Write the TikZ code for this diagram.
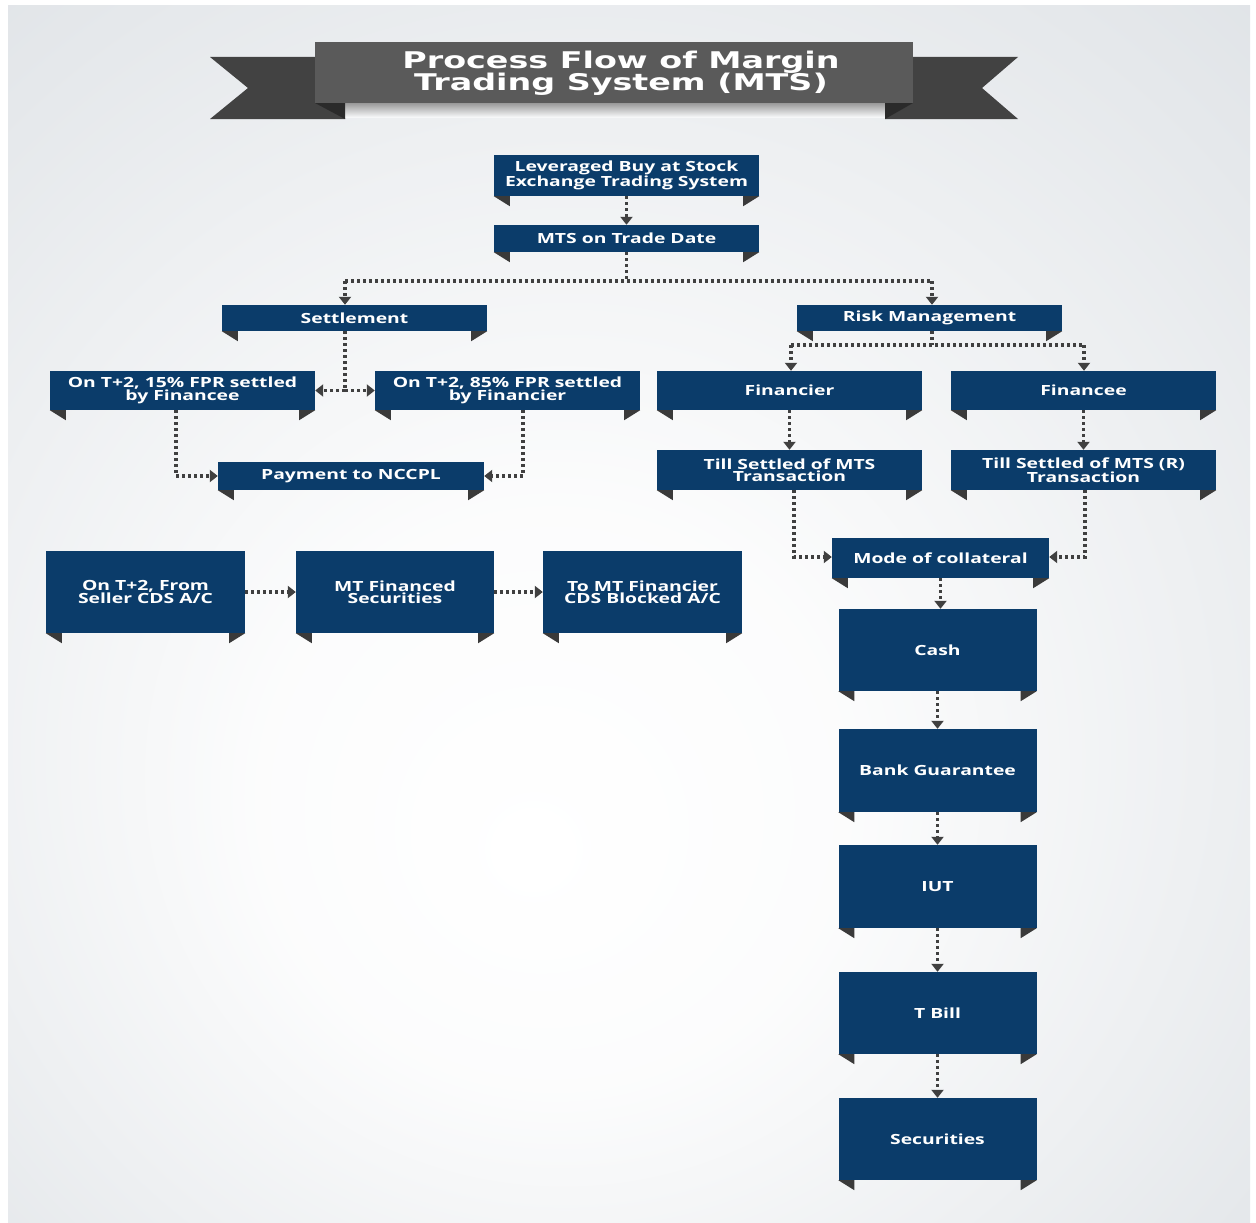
\documentclass[tikz,border=0pt]{standalone}
\usepackage{fontspec}
\setmainfont{Open Sans}[FakeStretch=1.38]
\newfontfamily\titlefont{DejaVu Sans}[FakeStretch=1.45]
\usetikzlibrary{arrows.meta}
\definecolor{navy}{HTML}{0B3C6A}
\definecolor{dotc}{HTML}{404040}
\definecolor{bgc}{HTML}{D4D9DE}
\definecolor{bannerc}{HTML}{5A5A5A}
\definecolor{tailc}{HTML}{424242}
\definecolor{foldc}{HTML}{3A3A3A}
\definecolor{folddark}{HTML}{2A2A2A}
\pgfdeclareradialshading{glow}{\pgfpoint{-4bp}{-10bp}}{color(0bp)=(white); color(12bp)=(white!92!bgc); color(50bp)=(bgc)}
\newcommand\boxfolds[1]{%
  \fill[foldc] (#1.south west) -- ++(16,0) -- ++(0,10) -- cycle;
  \fill[foldc] (#1.south east) -- ++(-16,0) -- ++(0,10) -- cycle;}
\begin{document}
\begin{tikzpicture}[x=1pt,y=-1pt,
  box/.style={fill=navy,text=white,inner sep=0pt,align=center,
    font=\fontsize{14}{12.5}\selectfont\bfseries},
  dotline/.style={draw=dotc,line width=3.2pt,dash pattern=on 3pt off 3pt},
  arr/.style={dotline,-{Triangle[length=8pt,width=12pt]}}]
\useasboundingbox (0,0) rectangle (1256,1223);
\fill[white] (0,0) rectangle (1256,1223);
\shade[shading=glow] (8,6) rectangle (1250,1223);

% title banner
\fill[tailc] (210,57) -- (345,57) -- (345,119) -- (210,119) -- (248,88) -- cycle;
\fill[tailc] (1018,57) -- (885,57) -- (885,119) -- (1018,119) -- (982,88) -- cycle;
\shade[top color=black!40,bottom color=white!80!bgc] (345,103) rectangle (885,117);
\fill[folddark] (315,103) -- (345,103) -- (345,119) -- cycle;
\fill[folddark] (913,103) -- (885,103) -- (885,119) -- cycle;
\fill[bannerc] (315,42) rectangle (913,103);
\node[text=white,align=center,inner sep=0pt,
  font=\titlefont\bfseries\fontsize{23}{20}\selectfont] (title) at (621,73.5)
  {Process Flow of Margin\\[-1.5pt]Trading System (MTS)};

% boxes
\node[box,minimum width=265pt,minimum height=41pt] (lev) at (626.5,175.5) {Leveraged Buy at Stock\\Exchange Trading System};
\node[box,minimum width=265pt,minimum height=27pt] (mts) at (626.5,238.5) {MTS on Trade Date};
\node[box,minimum width=265pt,minimum height=26pt] (set) at (354.5,318) {Settlement};
\node[box,minimum width=265pt,minimum height=26pt] (risk) at (929.5,318) {Risk Management};
\node[box,minimum width=265pt,minimum height=39pt] (b15) at (182.5,390.5) {On T+2, 15\% FPR settled\\by Financee};
\node[box,minimum width=265pt,minimum height=39pt] (b85) at (507.5,390.5) {On T+2, 85\% FPR settled\\by Financier};
\node[box,minimum width=265pt,minimum height=39pt] (fin) at (789.5,390.5) {Financier};
\node[box,minimum width=265pt,minimum height=39pt] (fee) at (1083.5,390.5) {Financee};
\node[box,minimum width=266pt,minimum height=28pt] (pay) at (351,476) {Payment to NCCPL};
\node[box,minimum width=265pt,minimum height=40pt] (till1) at (789.5,470) {Till Settled of MTS\\Transaction};
\node[box,minimum width=265pt,minimum height=40pt] (till2) at (1083.5,470) {Till Settled of MTS (R)\\Transaction};
\node[box,minimum width=217pt,minimum height=40pt] (mode) at (940.5,558) {Mode of collateral};
\node[box,minimum width=199pt,minimum height=82pt] (s1) at (145.5,592) {On T+2, From\\Seller CDS A/C};
\node[box,minimum width=198pt,minimum height=82pt] (s2) at (395,592) {MT Financed\\Securities};
\node[box,minimum width=199pt,minimum height=82pt] (s3) at (642.5,592) {To MT Financier\\CDS Blocked A/C};
\node[box,minimum width=198pt,minimum height=82pt] (cash) at (937.5,650) {Cash};
\node[box,minimum width=198pt,minimum height=83pt] (bg) at (937.5,770.5) {Bank Guarantee};
\node[box,minimum width=198pt,minimum height=83pt] (iut) at (937.5,886.5) {IUT};
\node[box,minimum width=198pt,minimum height=82pt] (tbill) at (937.5,1013) {T Bill};
\node[box,minimum width=198pt,minimum height=82pt] (sec) at (937.5,1139) {Securities};

\foreach \n in {lev,mts,set,risk,b15,b85,fin,fee,pay,till1,till2,mode,s1,s2,s3,cash,bg,iut,tbill,sec}{\boxfolds{\n}}

% connectors
\draw[arr] (lev.south) -- (mts.north);
\coordinate (jm) at (626.5,281);
\coordinate (jl) at (345,281);
\coordinate (jr) at (932,281);
\draw[dotline] (mts.south) -- (jm);
\draw[dotline] (jl) -- (jr);
\draw[arr] (jl) -- (jl |- set.north);
\draw[arr] (jr) -- (jr |- risk.north);

\coordinate (js) at (345,390.5);
\draw[dotline] (set.south -| js) -- (js);
\draw[arr] (js) -- (b15.east);
\draw[arr] (js) -- (b85.west);

\coordinate (jp1) at (176,476);
\coordinate (jp2) at (523,476);
\draw[arr] (b15.south -| jp1) -- (jp1) -- (pay.west);
\draw[arr] (b85.south -| jp2) -- (jp2) -- (pay.east);

\coordinate (jk) at (932,345);
\coordinate (jkl) at (791,345);
\coordinate (jkr) at (1084,345);
\draw[dotline] (risk.south -| jk) -- (jk);
\draw[dotline] (jkl) -- (jkr);
\draw[arr] (jkl) -- (jkl |- fin.north);
\draw[arr] (jkr) -- (jkr |- fee.north);

\draw[arr] (fin.south) -- (till1.north);
\draw[arr] (fee.south) -- (till2.north);

\coordinate (jt1) at (794,557);
\coordinate (jt2) at (1085,557);
\draw[arr] (till1.south -| jt1) -- (jt1) -- (mode.west |- jt1);
\draw[arr] (till2.south -| jt2) -- (jt2) -- (mode.east |- jt2);

\draw[arr] (mode.south) -- (mode.south |- cash.north);
\draw[arr] (cash.south) -- (bg.north);
\draw[arr] (bg.south) -- (iut.north);
\draw[arr] (iut.south) -- (tbill.north);
\draw[arr] (tbill.south) -- (sec.north);

\draw[arr] (s1.east) -- (s2.west);
\draw[arr] (s2.east) -- (s3.west);
\end{tikzpicture}
\end{document}
